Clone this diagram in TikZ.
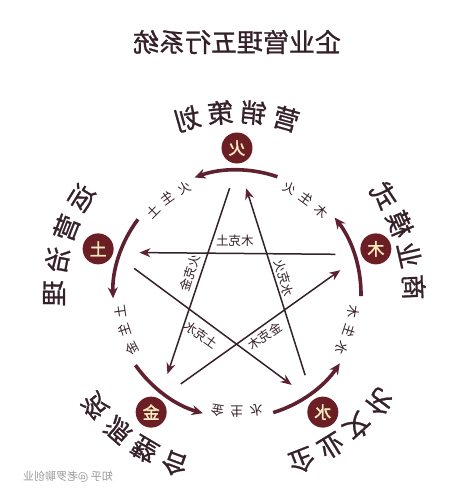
\documentclass[tikz,border=0pt]{standalone}
\usepackage{fontspec}
\usepackage{graphicx}
\newfontfamily\cjk{Noto Sans CJK SC}
\newfontfamily\cjkmedium[FakeBold=1]{Noto Sans CJK SC}
\newfontfamily\cjkbold[FakeBold=2]{Noto Sans CJK SC}
\usetikzlibrary{arrows.meta}

\definecolor{wine}{HTML}{5F2130}
\definecolor{badgered}{HTML}{6B1E24}
\definecolor{ink}{HTML}{35212A}
\definecolor{cream}{HTML}{F7E9BF}

\tikzset{
    arcline/.style   = {wine, line width = 3.6pt, -{Stealth[length=11pt, width=10pt]}},
    starline/.style  = {ink, line width = 1.5pt, -{Stealth[length=11pt, width=9pt, wine]}},
    badge/.style     = {circle, fill = badgered, minimum size = 31pt, inner sep = 0pt,
                        text = cream, font = \cjkbold\fontsize{17}{17}\selectfont},
    bigchar/.style   = {inner sep = 0pt, text = ink, font = \cjkmedium\fontsize{26}{26}\selectfont},
    smallchar/.style = {inner sep = 0pt, text = ink, font = \cjk\fontsize{13}{13}\selectfont},
    kelabel/.style   = {inner sep = 0pt, text = ink, font = \cjk\fontsize{12.5}{12.5}\selectfont},
    titletext/.style = {inner sep = 0pt, text = ink, font = \cjkmedium\fontsize{26}{26}\selectfont},
}

\begin{document}
\begin{tikzpicture}[x = 1pt, y = 1pt]

    \def\Rarc{124}
    \def\Rbadge{146}
    \def\Rstar{106}
    \def\Rsheng{118}

    \useasboundingbox[fill = white] (-237,-205) rectangle (237,294);

    % title and watermark
    \node[titletext] (title) at (0,252) {\reflectbox{企业管理五行系统}};
    \node[inner sep = 0pt, text = black!40, font = \cjk\fontsize{11}{11}\selectfont]
        (mark) at (-169,-183) {\reflectbox{知乎 @老罗聊创业}};

    % generating cycle
    \foreach \ang/\tag in {18/mu, 90/huo, 162/tu, 234/jin, 306/shui} {
        \coordinate (\tag-arc) at ({\ang-19}:\Rarc);
        \draw[arcline] (\tag-arc) arc[start angle = \ang-19, end angle = \ang+20, radius = \Rarc];
        \coordinate (\tag-out) at ({\ang+4}:\Rstar);
        \coordinate (\tag-in)  at ({\ang-5}:\Rstar);
    }

    \foreach \ang/\lbl/\tag in {54/{木,生,火}/ga, 126/{火,生,土}/gb, 198/{土,生,金}/gc,
                                270/{金,生,水}/gd, 342/{水,生,木}/ge}
        \foreach \ch [count = \i] in \lbl
            \node[smallchar, rotate = {\ang-9.5+9.5*(\i-1)-90}] (\tag\i)
                at ({\ang-9.5+9.5*(\i-1)}:\Rsheng) {\reflectbox{\ch}};

    % controlling star
    \draw[starline] (mu-out)   -- (tu-in);
    \draw[starline] (tu-out)   -- (shui-in);
    \draw[starline] (jin-out)  -- (mu-in);
    \draw[starline] (huo-out)  -- (jin-in);
    \draw[starline] (shui-out) -- (huo-in);

    \node[kelabel]              (ke1) at (-2,53)   {\reflectbox{木克土}};
    \node[kelabel, rotate = 72] (ke2) at (-47,21)  {\reflectbox{火克金}};
    \node[kelabel, rotate = -74](ke3) at (47,16)   {\reflectbox{水克火}};
    \node[kelabel, rotate = -36](ke4) at (-36,-41) {\reflectbox{土克水}};
    \node[kelabel, rotate = 35] (ke5) at (28,-42)  {\reflectbox{金克木}};

    % elements
    \foreach \ang/\ch/\tag in {90/火/huo, 18/木/mu, 162/土/tu, 234/金/jin, 306/水/shui}
        \node[badge] (\tag) at (\ang:\Rbadge) {\reflectbox{\ch}};

    % outer labels
    \foreach \ang/\rad/\lbl/\tag in {90/182/{营,销,策,划}/oa, 18/177/{商,业,模,式}/ob,
                                     164/183/{运,营,治,理}/oc, 234/181/{资,源,整,合}/od,
                                     307/179/{企,业,文,化}/oe}
        \foreach \ch [count = \i] in \lbl
            \node[bigchar, rotate = {\ang-15.75+10.5*(\i-1)-90}] (\tag\i)
                at ({\ang-15.75+10.5*(\i-1)}:\rad) {\reflectbox{\ch}};

\end{tikzpicture}
\end{document}
